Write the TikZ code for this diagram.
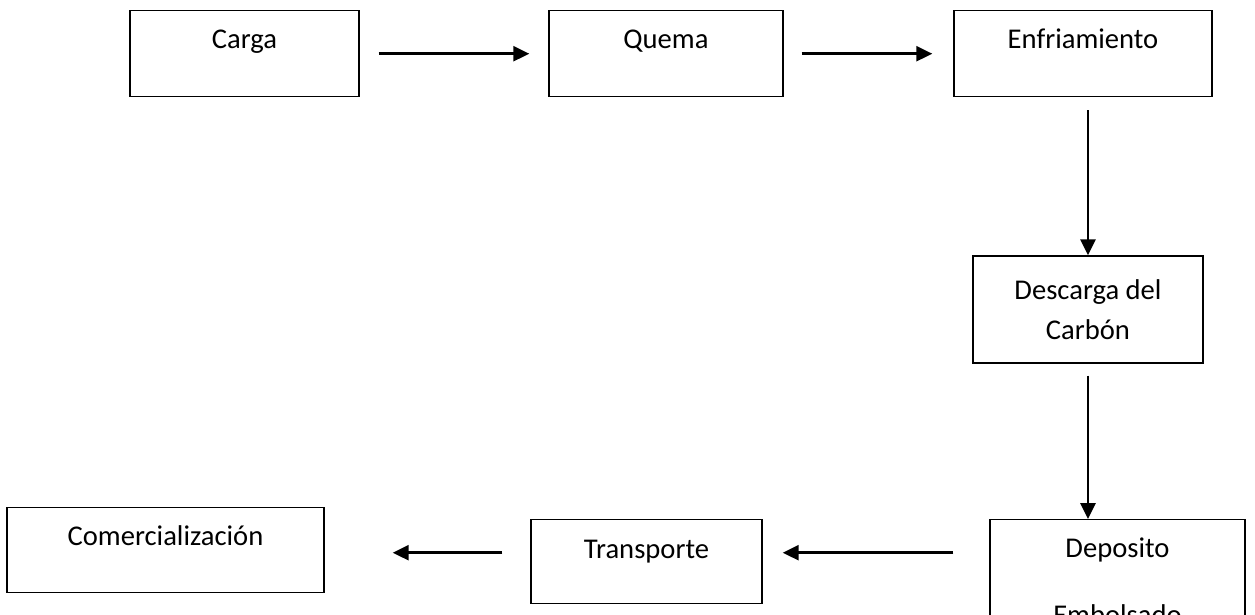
\documentclass[tikz,border=0pt]{standalone}
\usepackage{fontspec}
\setmainfont{Carlito}
\usepackage{tikz}
\usetikzlibrary{arrows.meta}

\tikzset{
cajabase/.style={draw, line width=0.7pt, inner xsep=0pt, inner ysep=0pt, font=\fontsize{14.3}{20}\selectfont},
caja/.style={cajabase, anchor=north, text height=19pt, text depth=24pt},
flecha/.style={line width=1.35pt, -{Triangle[length=8pt,width=7.5pt]}}
}

\begin{document}
\begin{tikzpicture}[x=0.5pt, y=-0.5pt]
\useasboundingbox (0,0) rectangle (1255,615);
\clip (0,0) rectangle (1255,615);

\node[caja, minimum width=114.5pt] (carga) at (244.5,10) {Carga};
\node[caja, minimum width=117pt] (quema) at (666,10) {Quema};
\node[caja, minimum width=129pt] (enfr) at (1083,10) {Enfriamiento};
\node[cajabase, minimum width=115pt, minimum height=53.5pt, align=center] (desc) at (1088,309.5) {Descarga del\\Carbón};
\node[caja, minimum width=127.5pt, text depth=80pt] (depo) at (1117.5,519) {\parbox[t]{120pt}{\centering Deposito\\[13.5pt]Embolsado}};
\node[caja, minimum width=115.5pt, text height=19.5pt, text depth=22.5pt] (trans) at (646.5,519) {Transporte};
\node[caja, minimum width=158.5pt, text height=19pt, text depth=23.5pt] (com) at (165.5,507) {Comercialización};

\draw[flecha, shorten <=9.5pt, shorten >=9.5pt] (carga.east) -- (quema.west);
\draw[flecha, shorten <=9pt, shorten >=10.5pt] (quema.east) -- (enfr.west);
\draw[flecha, shorten <=6.5pt] (enfr.south -| desc.north) -- (desc.north);
\draw[flecha, shorten <=6pt] (desc.south) -- (desc.south |- depo.north);
\draw[flecha, shorten <=18pt, shorten >=10pt] ([yshift=4.5pt]trans.east -| depo.west) -- ([yshift=4.5pt]trans.east);
\draw[flecha, shorten <=14pt, shorten >=34pt] ([yshift=4.5pt]trans.west) -- ([yshift=4.5pt]trans.west -| com.east);
\end{tikzpicture}
\end{document}
